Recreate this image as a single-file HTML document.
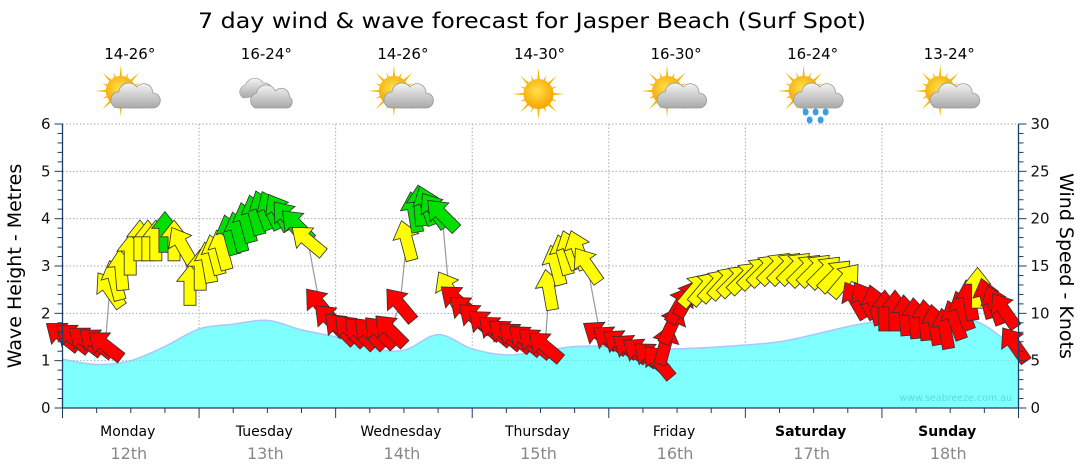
<!DOCTYPE html>
<html><head><meta charset="utf-8">
<style>
html,body{margin:0;padding:0;background:#fff;}
svg{display:block;font-family:"DejaVu Sans","Liberation Sans",sans-serif;}
</style></head>
<body>
<svg id="chart" width="1080" height="475" viewBox="0 0 1080 475" xmlns="http://www.w3.org/2000/svg">
<defs>
<radialGradient id="sunG" cx="0.45" cy="0.4" r="0.6"><stop offset="0" stop-color="#ffe24a"/><stop offset="1" stop-color="#f5a300"/></radialGradient>
<linearGradient id="cloudG" x1="0" y1="0" x2="0" y2="1"><stop offset="0" stop-color="#f4f4f4"/><stop offset="1" stop-color="#a8a8a8"/></linearGradient>
</defs>
<text x="532" y="28" text-anchor="middle" font-size="21" fill="#000" textLength="668" lengthAdjust="spacingAndGlyphs">7 day wind &amp; wave forecast for Jasper Beach (Surf Spot)</text>
<g id="plot"></g>
</svg>
<script>
// ---- data ----
const days = ["Monday","Tuesday","Wednesday","Thursday","Friday","Saturday","Sunday"];
const dates = ["12th","13th","14th","15th","16th","17th","18th"];
const temps = ["14-26°","16-24°","14-26°","14-30°","16-30°","16-24°","13-24°"];
const weather = ["partly","cloudy","partly","sunny","partly","rain","partly"];
const waveHours = [0,6,12,18,24,30,36,42,48,54,60,66,72,78,84,90,96,102,108,114,120,126,132,138,144,150,156,162,168];
const waveHeights = [1.03,0.92,1.0,1.3,1.67,1.77,1.85,1.65,1.5,1.27,1.22,1.55,1.25,1.12,1.2,1.3,1.3,1.25,1.25,1.28,1.33,1.4,1.55,1.72,1.85,1.97,2.0,1.75,1.2];
const windHours = [0,1.8,4,5.9,7.5,8.3,9.2,10.3,11.9,13.6,15,16.4,18,19.6,21,
 22.4,24.2,25.6,26.8,28,29.4,30.8,32.3,33.8,35.2,36.6,38,39.5,41.2,43.1,45.2,47,
 48.8,50.5,52.3,54,55.8,57.6,59.3,60.5,61.8,62.8,64,65.3,66.7,67.9,
 69.3,70.9,72.5,74.2,76,77.8,79.5,81.3,83,84.8,
 85.5,86.7,88,89.2,90.6,92.2,
 94.5,96.2,98,99.7,101.5,103.3,104.7,105.9,107.1,108.5,109.9,
 111.1,112.9,114.7,116.4,118.2,119.9,121.7,123.4,125.2,127,128.7,130.5,132.2,134,135.8,137.5,
 139.3,141,142.8,144.5,146.3,148.1,149.8,151.6,153.3,155.1,156.8,158.2,159.4,160.8,162.4,163.8,165.5,167.3];
const windSpeeds = [7.6,7.4,7.1,6.9,6.6,12.5,13.5,14.6,16.2,17.7,17.7,17.7,18.6,17.7,17.2,
 13,14.6,15.4,16.2,16.7,18.3,18.6,19.6,20.4,20.9,20.9,20.7,20.1,19.3,17.7,10.9,9.3,
 8.4,8.2,7.9,7.9,8,8.2,10.9,17.7,20.7,21.4,21.4,20.9,20.4,12.5,
 11.4,10.3,9.5,8.8,8.2,7.8,7.5,7.2,6.9,6.5,
 12.5,15.1,16.2,16.7,16.7,15.1,
 7.7,7.2,6.8,6.3,5.9,5.4,4.9,6.7,8.8,10.9,11.6,
 12.5,12.7,13,13.3,13.5,13.8,14.3,14.6,14.8,14.8,14.8,14.6,14.6,14.4,14,13.5,
 11.4,11.4,10.9,10.3,10.3,9.8,9.5,9.3,8.8,8.4,9.3,10.3,11.4,12.7,11.6,10.9,10.3,6.7];
const windDirs = [-52,-52,-52,-52,-52,-35,-15,-5,0,0,0,0,0,0,-30,
 0,0,-10,-15,-15,-15,-15,-15,-15,-20,-25,-30,-40,-45,-50,-40,-45,
 -45,-45,-45,-45,-45,-45,-40,-15,-10,-5,-20,-35,-45,-30,
 -50,-50,-50,-50,-50,-50,-50,-50,-50,-50,
 -10,-15,-15,-20,-20,-35,
 -55,-55,-55,-55,-55,-50,-40,15,25,30,30,
 40,40,42,42,45,45,45,45,45,45,45,45,45,45,45,40,
 -30,-30,-15,0,0,-5,-5,-5,-10,-10,-20,-20,-10,0,-15,-20,-35,-35];
const leftTicks = [0,1,2,3,4,5,6];
const rightTicks = [0,5,10,15,20,25,30];

// ---- scales ----
const X0=62.5, X1=1018.5, Y0=408, Y6=124;
const dayW=(X1-X0)/7;
const xH = h => X0 + h*(X1-X0)/168;
const yM = m => Y0 - m*(Y0-Y6)/6;
const yK = k => yM(k/5);
const NS="http://www.w3.org/2000/svg";
const plot=document.getElementById('plot');
function mk(tag, attrs, parent){const e=document.createElementNS(NS,tag);for(const k in attrs)e.setAttribute(k,attrs[k]);(parent||plot).appendChild(e);return e;}

// gridlines
for(let m=1;m<=6;m++){
 const g=mk('line',{x1:X0,x2:X1,y1:yM(m),y2:yM(m),stroke:'#aaa','stroke-dasharray':'1.5,2','stroke-width':1});
 
 
}
for(let d=1;d<7;d++){
 const g=mk('line',{x1:X0+d*dayW,x2:X0+d*dayW,y1:Y6,y2:Y0,stroke:'#aaa','stroke-dasharray':'1.5,2','stroke-width':1});
 
 
}
// smooth wave curve (catmull-rom)
const wp=waveHours.map((h,i)=>[xH(h),yM(waveHeights[i])]);
function smooth(p){let d=`M${p[0][0]},${p[0][1]}`;for(let i=0;i<p.length-1;i++){const p0=p[Math.max(0,i-1)],p1=p[i],p2=p[i+1],p3=p[Math.min(p.length-1,i+2)];
 d+=` C${p1[0]+(p2[0]-p0[0])/6},${p1[1]+(p2[1]-p0[1])/6} ${p2[0]-(p3[0]-p1[0])/6},${p2[1]-(p3[1]-p1[1])/6} ${p2[0]},${p2[1]}`;}return d;}
const sd=smooth(wp);
const area=mk('path',{d:sd+` L${wp[wp.length-1][0]},${Y0} L${wp[0][0]},${Y0} Z`,fill:'#80ffff',stroke:'none'});


const wl=mk('path',{d:sd,fill:'none',stroke:'#a6c8ff','stroke-width':1.5});


for(let m=1;m<=2;m++){mk('line',{x1:X0,x2:X1,y1:yM(m),y2:yM(m),stroke:'#7cc','stroke-dasharray':'1.5,2','stroke-width':0.6});}
const wm=mk('text',{x:1012,y:401,'text-anchor':'end','font-size':9.5,fill:'#55dddd'});
wm.textContent='www.seabreeze.com.au';



// wind line
const wline=mk('polyline',{points:windHours.map((h,i)=>`${xH(h)},${yK(windSpeeds[i])}`).join(' '),fill:'none',stroke:'#999','stroke-width':1.2});


// arrows
const arrowPath="M0,-17 L11,-3 L5,-3 L5,17 L-5,17 L-5,-3 L-11,-3 Z";
windHours.forEach((h,i)=>{
 const s=windSpeeds[i];
 const col = s>=18 ? '#00e000' : (s>=12.2 ? '#ffff00' : '#ff0000');
 const a=mk('path',{d:arrowPath,fill:col,stroke:'#333','stroke-width':0.7,'stroke-linejoin':'miter',
   transform:`translate(${xH(h)},${yK(s)}) rotate(${windDirs[i]}) scale(1.2)`});
 
 
});

// axes
const ax=mk('g',{stroke:'#1a3f66','stroke-width':1.3});


mk('line',{x1:X0,x2:X0,y1:Y6,y2:Y0},ax);
mk('line',{x1:X1,x2:X1,y1:Y6,y2:Y0},ax);
mk('line',{x1:X0,x2:X1,y1:Y0,y2:Y0},ax);
for(let i=0;i<=30;i++){const y=yM(i*0.2);const L=i%5==0?8:5;mk('line',{x1:X0-L,x2:X0,y1:y,y2:y,'stroke-width':1},ax);}
for(let i=0;i<=30;i++){const y=yK(i);const L=i%5==0?8:5;mk('line',{x1:X1,x2:X1+L,y1:y,y2:y,'stroke-width':1},ax);}
for(let i=0;i<=28;i++){const x=xH(i*6);const L=i%4==0?10:5;mk('line',{x1:x,x2:x,y1:Y0,y2:Y0+L,'stroke-width':1},ax);}
leftTicks.forEach(v=>{const t=mk('text',{x:X0-12,y:yM(v)+5,'text-anchor':'end','font-size':15,fill:'#111'});t.textContent=v;
 
 });
rightTicks.forEach(v=>{const t=mk('text',{x:X1+12,y:yK(v)+5,'text-anchor':'start','font-size':15,fill:'#111'});t.textContent=v;
 
 });
const lt=mk('text',{transform:`translate(21,${(Y0+Y6)/2}) rotate(-90)`,'text-anchor':'middle','font-size':19,fill:'#000'});
lt.textContent='Wave Height - Metres';


const rt=mk('text',{transform:`translate(1060,${(Y0+Y6)/2}) rotate(90)`,'text-anchor':'middle','font-size':19,fill:'#000'});
rt.textContent='Wind Speed - Knots';



// day labels, temps, icons
function icon(cx,cy,type,g){
 if(type!=='cloudy'){
  const sx = type==='sunny'?cx:cx-8, sy= type==='sunny'?cy:cy-3;
  for(let r=0;r<16;r++){const a=r*Math.PI/8, L=(r%2==0)?26:20;
   mk('polygon',{points:`${sx+Math.cos(a)*L},${sy+Math.sin(a)*L} ${sx+Math.cos(a+0.12)*12},${sy+Math.sin(a+0.12)*12} ${sx+Math.cos(a-0.12)*12},${sy+Math.sin(a-0.12)*12}`,fill:'#f5b800'},g);}
  mk('circle',{cx:sx,cy:sy,r:15,fill:'url(#sunG)'},g);
 }
 if(type==='partly'||type==='rain'){
  mk('path',{d:`M${cx-10},${cy+14} a8,8 0 0 1 0,-16 a10,10 0 0 1 18,-5 a9,9 0 0 1 16,6 a7,7 0 0 1 0,15 Z`,fill:'url(#cloudG)',stroke:'#999','stroke-width':0.8},g);
  if(type==='rain'){[[-6,18],[4,18],[14,18],[-2,26],[9,26]].forEach(p=>mk('ellipse',{cx:cx+p[0],cy:cy+p[1],rx:3,ry:3.5,fill:'#3aa0e0'},g));}
 }
 if(type==='cloudy'){
  mk('path',{d:`M${cx-22},${cy+4} a7,7 0 0 1 2,-13 a10,10 0 0 1 18,-2 a8,8 0 0 1 8,12 Z`,fill:'url(#cloudG)',stroke:'#aaa','stroke-width':0.8},g);
  mk('path',{d:`M${cx-10},${cy+14} a8,8 0 0 1 1,-15 a10,10 0 0 1 19,-2 a8,8 0 0 1 14,6 a6,6 0 0 1 -2,11 Z`,fill:'url(#cloudG)',stroke:'#999','stroke-width':0.8},g);
 }
}
days.forEach((d,i)=>{
 const cx=X0+(i+0.5)*dayW;
 const t1=mk('text',{x:cx-3,y:436,'text-anchor':'middle','font-size':14,fill:'#000','font-weight':i>=5?'bold':'normal'});
 t1.textContent=d;
 
 
 const t2=mk('text',{x:cx-2,y:459,'text-anchor':'middle','font-size':16,fill:'#888'});
 t2.textContent=dates[i];
 
 
 const t3=mk('text',{x:cx-1,y:59,'text-anchor':'middle','font-size':15,fill:'#000'});
 t3.textContent=temps[i];
 
 
 const g=mk('g',{});
 
 
 icon(cx-2,94,weather[i],g);
});
</script>
</body></html>
